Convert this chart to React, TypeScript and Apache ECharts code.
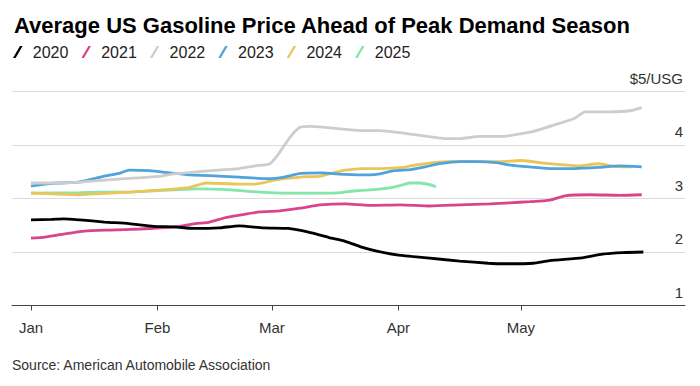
import React, { useEffect, useRef } from "react";
import * as echarts from "echarts";

// Day of year (0 = Jan 1) and average price, $/US gallon
const years = ["2020", "2021", "2022", "2023", "2024", "2025"];

const y2020 = [[0,2.60],[5,2.61],[8,2.62],[12,2.60],[18,2.56],[24,2.53],[30,2.48],[35,2.47],[40,2.44],[46,2.45],[51,2.49],[57,2.45],[63,2.44],[68,2.37],[73,2.27],[77,2.20],[81,2.09],[85,2.01],[90,1.94],[97,1.89],[105,1.83],[112,1.79],[116,1.78],[123,1.79],[127,1.84],[135,1.89],[140,1.96],[145,1.99],[150,2.00]];
const y2021 = [[0,2.26],[3.4,2.28],[8.3,2.34],[13.2,2.39],[19.3,2.41],[26.7,2.43],[31.6,2.45],[35.3,2.47],[40.2,2.53],[43.8,2.56],[47.5,2.64],[51.2,2.69],[56.1,2.75],[61,2.77],[65.9,2.82],[70.8,2.88],[77,2.90],[83,2.87],[90.4,2.88],[97.7,2.86],[105,2.88],[112.4,2.90],[117.3,2.92],[122.2,2.94],[127.1,2.97],[130.8,3.05],[136.9,3.07],[144.3,3.06],[149.6,3.07]];
const y2022 = [[0,3.29],[7,3.29],[13,3.31],[19,3.35],[27,3.39],[32,3.42],[35,3.46],[41,3.50],[47.5,3.54],[51,3.56],[55,3.61],[58.5,3.65],[60.5,3.82],[63.4,4.14],[65.9,4.33],[68.3,4.35],[72,4.33],[75.7,4.30],[80.6,4.27],[85.5,4.27],[90.4,4.23],[95.3,4.18],[101.4,4.12],[105,4.12],[110,4.16],[114.9,4.16],[122.2,4.24],[125.9,4.32],[129.6,4.41],[133.2,4.50],[135.7,4.62],[141.8,4.62],[146.7,4.64],[149.6,4.70]];
const y2023 = [[0,3.23],[3.4,3.27],[7,3.29],[12,3.31],[17,3.40],[22,3.48],[24,3.53],[29,3.52],[34,3.48],[39,3.44],[46,3.42],[51,3.40],[58,3.37],[62,3.40],[66,3.47],[71,3.48],[77,3.45],[83,3.44],[85.5,3.46],[89,3.52],[93,3.54],[96.5,3.59],[100,3.65],[105,3.69],[109,3.69],[114,3.67],[117,3.63],[122,3.59],[127,3.56],[133,3.56],[139,3.58],[144,3.61],[149.6,3.59]];
const y2024 = [[0,3.10],[7,3.08],[12,3.07],[17,3.09],[24,3.12],[32,3.16],[39,3.21],[43,3.29],[51,3.27],[55,3.27],[60,3.35],[66,3.40],[71,3.42],[74,3.48],[77,3.53],[81,3.56],[86,3.56],[91,3.58],[93,3.61],[98.5,3.67],[102.6,3.69],[115,3.69],[120,3.71],[127,3.65],[134,3.61],[139,3.65],[143,3.60],[147,3.59]];
const y2025 = [[0,3.10],[12,3.11],[17,3.12],[24,3.12],[29,3.14],[35,3.16],[41,3.18],[49,3.16],[56,3.12],[63,3.10],[71,3.10],[76,3.11],[79,3.14],[83,3.16],[88,3.20],[90.4,3.24],[92.8,3.29],[95.3,3.29],[97.7,3.26],[99.2,3.22]];

const monthTicks = [0, 31, 59, 90, 120];
const monthLabels = ["Jan", "Feb", "Mar", "Apr", "May"];
const yTicks = [1, 2, 3, 4, 5];

const seriesData = [y2020, y2021, y2022, y2023, y2024, y2025];
const colors = ["#000000", "#d9458c", "#cdcdcd", "#4fa4dc", "#eac55a", "#84e6a8"];

const FONT = "'Liberation Sans', Arial, Helvetica, sans-serif";
const SLASH = "path://M0,12 L7,0 L9.6,0 L2.6,12 Z";

export default function App() {
  const ref = useRef<HTMLDivElement>(null);
  useEffect(() => {
    if (!ref.current) return;
    const chart = echarts.init(ref.current, null, { renderer: "svg" });
    chart.setOption({
      animation: false,
      textStyle: { fontFamily: FONT },
      title: {
        text: "Average US Gasoline Price Ahead of Peak Demand Season",
        left: 9,
        top: 9,
        textStyle: { fontFamily: FONT, fontSize: 22, fontWeight: "bold", color: "#000" },
      },
      legend: {
        left: 13,
        top: 44,
        itemWidth: 10,
        itemHeight: 12,
        itemGap: 13,
        padding: 0,
        icon: SLASH,
        data: years.map((y, i) => ({ name: y, itemStyle: { color: colors[i] } })),
        textStyle: { fontFamily: FONT, fontSize: 16, color: "#222", padding: [0, 0, 0, 5] },
      },
      graphic: [
        {
          type: "text",
          left: 12,
          top: 358,
          style: { text: "Source: American Automobile Association", fontFamily: FONT, fontSize: 14, fill: "#333" },
        },
      ],
      grid: { left: 12, right: 15, top: 91.5, bottom: 80.5, containLabel: false },
      xAxis: {
        type: "value",
        min: -4.65,
        max: 160.2,
        splitLine: { show: false },
        axisLine: { show: true, lineStyle: { color: "#444", width: 1 } },
        axisTick: { show: true, length: 5, customValues: monthTicks, lineStyle: { color: "#444" } },
        axisLabel: {
          customValues: monthTicks,
          margin: 14,
          fontFamily: FONT,
          fontSize: 15,
          color: "#333",
          formatter: (v: number) => monthLabels[monthTicks.indexOf(v)] ?? "",
        },
      },
      yAxis: {
        type: "value",
        position: "right",
        min: 1,
        max: 5,
        interval: 1,
        axisLine: { show: false },
        axisTick: { show: false },
        splitLine: { lineStyle: { color: "#dcdcdc", width: 1 } },
        axisLabel: {
          inside: true,
          margin: 2,
          verticalAlign: "bottom",
          padding: [0, 0, 6, 0],
          fontFamily: FONT,
          fontSize: 15,
          color: "#333",
          formatter: (v: number) => (v === yTicks[yTicks.length - 1] ? "$5/USG" : String(v)),
        },
      },
      series: seriesData.map((d, i) => ({
        name: years[i],
        type: "line",
        data: d,
        z: 10 - i,
        showSymbol: false,
        symbol: "none",
        smooth: 0.2,
        lineStyle: { color: colors[i], width: 2.8 },
        itemStyle: { color: colors[i] },
      })),
    });
    return () => chart.dispose();
  }, []);
  return <div ref={ref} style={{ width: 700, height: 386, position: "absolute", left: 0, top: 0, background: "#fff" }} />;
}
